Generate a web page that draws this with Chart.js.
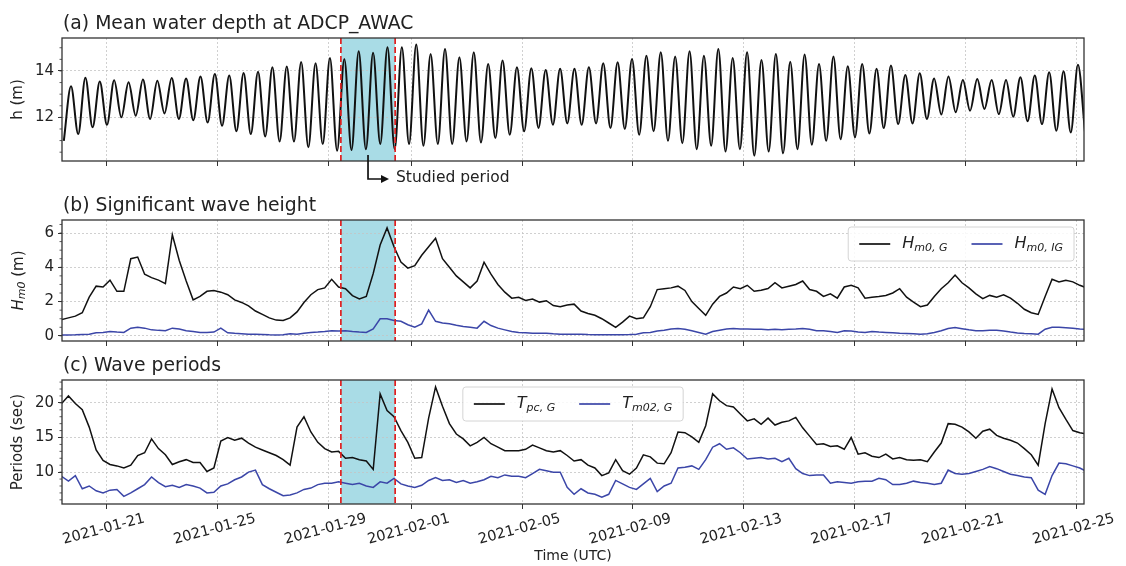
<!DOCTYPE html>
<html>
<head>
<meta charset="utf-8">
<title>ADCP_AWAC water depth, wave height and wave periods</title>
<script src="https://cdn.jsdelivr.net/npm/chart.js@4.4.1/dist/chart.umd.min.js"></script>
<style>
  html, body { margin: 0; padding: 0; background: #fff; }
  #wrap { position: relative; width: 1126px; height: 566px; overflow: hidden; }
  #wrap canvas { position: absolute; left: 0; top: 0; }
</style>
</head>
<body>
<div id="wrap">
  <canvas id="chartA" width="1126" height="566"></canvas>
  <canvas id="chartB" width="1126" height="566"></canvas>
  <canvas id="chartC" width="1126" height="566"></canvas>
</div>
<script>
// ---- data ----
const tickLabels = ['2021-01-21', '2021-01-25', '2021-01-29', '2021-02-01', '2021-02-05',
                    '2021-02-09', '2021-02-13', '2021-02-17', '2021-02-21', '2021-02-25'];
const studyStart = Date.parse('2021-01-29T11:00:00Z');
const studyEnd = Date.parse('2021-01-31T10:00:00Z');

// (a) tide: successive low / high water levels (m), one every ~6.23 h
const tideStart = '2021-01-19T11:00:00Z';
const tideStepHours = 6.23;
const tideLows = [10.99, 11.28, 11.57, 11.68, 12.0, 12.07, 11.93, 12.17, 11.93, 11.88, 11.78, 11.64, 11.40, 11.28, 11.18, 10.96, 10.96, 10.71,
  10.85, 10.56, 10.59, 10.63, 10.85, 10.63, 10.85, 10.78, 10.85, 10.85, 10.96, 10.92, 11.11, 11.25, 11.40, 11.54, 11.68, 11.74,
  11.68, 11.74, 11.54, 11.50, 11.25, 11.40, 10.99, 10.89, 10.63, 10.78, 10.53, 10.63, 10.35, 10.53, 10.45, 10.63, 10.82, 10.99,
  11.06, 11.14, 11.31, 11.54, 11.71, 11.74, 11.93, 12.12, 12.22, 12.29, 12.36, 12.14, 12.03, 11.83, 11.71, 11.42, 11.35, 11.3];
const tideHighs = [13.34, 13.71, 13.55, 13.60, 13.51, 13.63, 13.58, 13.70, 13.68, 13.76, 13.87, 13.80, 13.91, 13.97, 14.16, 14.19, 14.39,
  14.33, 14.56, 14.52, 14.85, 14.78, 15.02, 15.02, 15.14, 14.73, 14.95, 14.59, 14.81, 14.30, 14.45, 14.16, 14.12, 14.04, 14.09,
  14.09, 14.16, 14.33, 14.37, 14.52, 14.66, 14.81, 14.62, 14.85, 14.66, 14.95, 14.56, 14.81, 14.47, 14.73, 14.40, 14.71, 14.30,
  14.62, 14.20, 14.30, 14.09, 14.23, 13.83, 13.90, 13.68, 13.76, 13.61, 13.65, 13.61, 13.61, 13.73, 13.80, 13.94, 13.99, 14.27];

// (b) and (c): 6-hourly samples
const waveStart = '2021-01-19T09:00:00Z';
const waveStepHours = 6;
const hm0G = [0.95, 1.05, 1.15, 1.35, 2.26, 2.9, 2.85, 3.25, 2.6, 2.6,
  4.5, 4.6, 3.6, 3.4, 3.25, 3.05, 5.9, 4.4, 3.2, 2.1,
  2.3, 2.6, 2.65, 2.55, 2.4, 2.1, 1.95, 1.75, 1.45, 1.25,
  1.05, 0.92, 0.9, 1.05, 1.4, 1.95, 2.4, 2.7, 2.8, 3.3,
  2.85, 2.75, 2.35, 2.15, 2.3, 3.64, 5.3, 6.3, 5.2, 4.3,
  3.95, 4.1, 4.7, 5.2, 5.7, 4.5, 4.0, 3.5, 3.15, 2.8,
  3.2, 4.3, 3.6, 3.0, 2.55, 2.2, 2.25, 2.07, 2.15, 1.97,
  2.05, 1.77, 1.7, 1.8, 1.85, 1.45, 1.3, 1.2, 1.0, 0.75,
  0.5, 0.8, 1.15, 1.0, 1.05, 1.7, 2.7, 2.75, 2.8, 2.9,
  2.65, 2.0, 1.6, 1.2, 1.85, 2.3, 2.5, 2.85, 2.75, 2.95,
  2.6, 2.66, 2.76, 3.1, 2.8, 2.9, 3.0, 3.2, 2.7, 2.6,
  2.3, 2.45, 2.2, 2.85, 2.95, 2.8, 2.2, 2.25, 2.3, 2.36,
  2.5, 2.75, 2.26, 1.97, 1.7, 1.8, 2.3, 2.75, 3.1, 3.55,
  3.1, 2.8, 2.45, 2.17, 2.36, 2.26, 2.4, 2.2, 1.9, 1.55,
  1.35, 1.25, 2.3, 3.3, 3.15, 3.25, 3.15, 2.95, 2.8];
const hm0IG = [0.05, 0.05, 0.06, 0.08, 0.1, 0.18, 0.2, 0.25, 0.22, 0.2,
  0.45, 0.5, 0.45, 0.35, 0.32, 0.3, 0.45, 0.4, 0.3, 0.25,
  0.2, 0.2, 0.22, 0.45, 0.18, 0.15, 0.13, 0.1, 0.1, 0.08,
  0.06, 0.05, 0.06, 0.12, 0.1, 0.15, 0.2, 0.22, 0.25, 0.3,
  0.28, 0.3, 0.25, 0.22, 0.2, 0.4, 1.0, 1.0, 0.9, 0.85,
  0.65, 0.5, 0.7, 1.5, 0.85, 0.75, 0.7, 0.62, 0.55, 0.5,
  0.45, 0.85, 0.6, 0.45, 0.35, 0.25, 0.2, 0.18, 0.15, 0.15,
  0.15, 0.12, 0.1, 0.1, 0.1, 0.1, 0.08, 0.07, 0.06, 0.06,
  0.06, 0.07, 0.08, 0.1, 0.18, 0.2, 0.28, 0.33, 0.4, 0.43,
  0.38, 0.3, 0.2, 0.1, 0.25, 0.33, 0.4, 0.43, 0.4, 0.4,
  0.39, 0.38, 0.36, 0.38, 0.36, 0.39, 0.4, 0.43, 0.38, 0.3,
  0.3, 0.25, 0.2, 0.3, 0.28, 0.22, 0.2, 0.25, 0.22, 0.2,
  0.18, 0.15, 0.14, 0.12, 0.1, 0.12, 0.2, 0.3, 0.43, 0.49,
  0.42, 0.35, 0.3, 0.3, 0.32, 0.33, 0.28, 0.22, 0.17, 0.14,
  0.12, 0.1, 0.39, 0.5, 0.5, 0.48, 0.45, 0.4, 0.38];
const tpcG = [19.9, 21.0, 19.9, 19.0, 16.5, 13.2, 11.7, 11.1, 10.9, 10.6,
  11.0, 12.4, 12.8, 14.8, 13.4, 12.5, 11.1, 11.5, 11.8, 11.4,
  11.4, 10.1, 10.6, 14.5, 15.0, 14.6, 14.9, 14.2, 13.6, 13.2,
  12.8, 12.4, 11.8, 11.0, 16.5, 18.0, 15.8, 14.3, 13.4, 12.9,
  13.0, 12.0, 12.1, 11.8, 11.6, 10.4, 21.3, 18.9, 18.0, 16.0,
  14.3, 12.0, 12.1, 17.8, 22.3, 19.5, 17.0, 15.5, 14.8, 13.8,
  14.3, 15.0, 14.1, 13.6, 13.1, 13.1, 13.1, 13.3, 13.9, 13.5,
  13.1, 12.9, 13.1, 12.4, 11.6, 11.8, 11.0, 10.6, 9.5, 9.9,
  11.8, 10.2, 9.7, 10.6, 12.5, 12.2, 11.3, 11.2, 12.8, 15.8,
  15.7, 15.1, 14.3, 16.7, 21.3, 20.3, 19.6, 19.4, 18.4, 17.4,
  17.7, 16.9, 17.8, 16.8, 17.2, 17.4, 17.9, 16.4, 15.2, 14.0,
  14.1, 13.7, 13.8, 13.3, 15.0, 12.6, 12.8, 12.3, 12.1, 12.6,
  11.9, 12.1, 11.8, 11.7, 11.8, 11.5, 12.9, 14.2, 17.0, 16.9,
  16.5, 15.8, 14.9, 15.9, 16.2, 15.3, 14.9, 14.6, 14.2, 13.4,
  12.5, 11.0, 17.0, 22.0, 19.3, 17.6, 16.0, 15.7, 15.5];
const tm02G = [9.4, 8.7, 9.5, 7.6, 8.0, 7.3, 7.0, 7.4, 7.5, 6.5,
  7.0, 7.6, 8.2, 9.3, 8.5, 7.9, 8.1, 7.8, 8.2, 8.0,
  7.7, 7.0, 7.1, 8.0, 8.3, 8.9, 9.3, 10.0, 10.3, 8.2,
  7.6, 7.1, 6.6, 6.7, 7.0, 7.5, 7.7, 8.2, 8.4, 8.4,
  8.6, 8.4, 8.2, 8.4, 8.0, 7.8, 8.6, 8.4, 9.1, 8.3,
  8.0, 7.8, 8.1, 8.8, 9.2, 8.8, 8.9, 8.5, 8.8, 8.4,
  8.6, 8.9, 9.4, 9.2, 9.6, 9.4, 9.4, 9.2, 9.8, 10.4,
  10.2, 10.0, 10.0, 7.8, 6.8, 7.6, 7.0, 6.8, 6.4, 6.8,
  8.8, 8.3, 7.8, 7.5, 8.3, 9.1, 7.2, 8.0, 8.4, 10.6,
  10.7, 10.9, 10.4, 11.8, 13.6, 14.1, 13.3, 13.5, 12.8, 11.9,
  12.0, 12.1, 11.9, 12.0, 11.5, 12.0, 10.5, 9.8, 9.5, 9.6,
  9.6, 8.4, 8.6, 8.5, 8.4, 8.6, 8.7, 8.7, 9.1, 8.9,
  8.2, 8.2, 8.4, 8.7, 8.5, 8.4, 8.2, 8.4, 10.3, 9.8,
  9.7, 9.8, 10.1, 10.4, 10.8, 10.5, 10.1, 9.7, 9.5, 9.3,
  9.2, 7.4, 6.8, 9.5, 11.3, 11.2, 10.9, 10.6, 10.1];

const yTicksA = [12, 14];
const yTicksB = [0, 2, 4, 6];
const yTicksC = [10, 15, 20];

// ---- styling ----
const FAM = '"DejaVu Sans", sans-serif';
const TXT = '#222222';
const AXIS = '#333333';
const GRID = '#c4c4c4';
const BLACK = '#111111';
const BLUE = '#3b46a8';
const RED = '#e02020';
const SHADE = '#a9dce6';
const HOUR = 3600e3;

const xMin = Date.parse('2021-01-19T09:26:00Z');
const xMax = Date.parse('2021-02-25T06:40:00Z');
const tickValues = tickLabels.map(s => Date.parse(s + 'T00:00:00Z'));

function series(start, stepH, vals) {
  const t0 = Date.parse(start);
  return vals.map((v, i) => ({ x: t0 + i * stepH * HOUR, y: v }));
}

// low, high, low, high ...
const tideLevels = [];
tideLows.forEach((lo, k) => {
  tideLevels.push(lo);
  if (k < tideHighs.length) tideLevels.push(tideHighs[k]);
});

function richWidth(ctx, parts) {
  let w = 0;
  parts.forEach(p => { ctx.font = p.font; w += ctx.measureText(p.t).width; });
  return w;
}
function drawRich(ctx, x, y, parts) {
  let cx = x;
  parts.forEach(p => {
    ctx.font = p.font;
    ctx.fillText(p.t, cx, y + (p.dy || 0));
    cx += ctx.measureText(p.t).width;
  });
}

function drawLegend(ctx, a, lg) {
  const pad = 11, lineLen = 31, gap = 12, itemGap = 24, h = 34;
  let w = pad * 2;
  lg.items.forEach((it, i) => { w += lineLen + gap + richWidth(ctx, it.label) + (i ? itemGap : 0); });
  const x0 = lg.align === 'right' ? a.right - 10 - w : (a.left + a.right) / 2 - w / 2;
  const y0 = a.top + 7;
  ctx.fillStyle = 'rgba(255,255,255,0.85)';
  ctx.strokeStyle = '#d4d4d4';
  ctx.lineWidth = 1;
  ctx.beginPath();
  ctx.roundRect(x0, y0, w, h, 3);
  ctx.fill();
  ctx.stroke();
  let cx = x0 + pad;
  const cy = y0 + h / 2;
  lg.items.forEach((it, i) => {
    if (i) cx += itemGap;
    ctx.strokeStyle = it.color;
    ctx.lineWidth = 1.7;
    ctx.beginPath();
    ctx.moveTo(cx, cy);
    ctx.lineTo(cx + lineLen, cy);
    ctx.stroke();
    cx += lineLen + gap;
    ctx.fillStyle = TXT;
    ctx.textBaseline = 'middle';
    ctx.textAlign = 'left';
    drawRich(ctx, cx, cy, it.label);
    cx += richWidth(ctx, it.label);
  });
}

// shaded study window, red limits, frame, minor ticks, titles, legends, annotation
const decor = {
  id: 'decor',
  beforeDraw(chart) {
    const { ctx, chartArea: a } = chart;
    const xs = chart.scales.x;
    const x0 = xs.getPixelForValue(studyStart);
    const x1 = xs.getPixelForValue(studyEnd);
    ctx.save();
    ctx.fillStyle = SHADE;
    ctx.fillRect(x0, a.top, x1 - x0, a.bottom - a.top);
    ctx.restore();
  },
  afterDraw(chart, args, o) {
    const { ctx, chartArea: a } = chart;
    const xs = chart.scales.x, ys = chart.scales.y;
    ctx.save();

    ctx.strokeStyle = RED;
    ctx.lineWidth = 1.7;
    ctx.setLineDash([6, 3]);
    [studyStart, studyEnd].forEach(t => {
      const px = xs.getPixelForValue(t);
      ctx.beginPath();
      ctx.moveTo(px, a.top);
      ctx.lineTo(px, a.bottom);
      ctx.stroke();
    });
    ctx.setLineDash([]);

    ctx.strokeStyle = AXIS;
    ctx.lineWidth = 1.3;
    ctx.strokeRect(a.left, a.top, a.right - a.left, a.bottom - a.top);

    // minor ticks on the y axis
    ctx.lineWidth = 0.8;
    const n0 = Math.ceil(ys.min / o.minor), n1 = Math.floor(ys.max / o.minor);
    for (let n = n0; n <= n1; n++) {
      const py = ys.getPixelForValue(n * o.minor);
      ctx.beginPath();
      ctx.moveTo(a.left - 2.5, py);
      ctx.lineTo(a.left, py);
      ctx.stroke();
    }

    ctx.fillStyle = TXT;
    ctx.font = '18.8px ' + FAM;
    ctx.textAlign = 'left';
    ctx.textBaseline = 'alphabetic';
    ctx.fillText(o.title, a.left + 1, a.top - 9);

    if (o.yTitle) {
      ctx.save();
      ctx.translate(19, (a.top + a.bottom) / 2);
      ctx.rotate(-Math.PI / 2);
      ctx.textBaseline = 'middle';
      drawRich(ctx, -richWidth(ctx, o.yTitle) / 2, 0, o.yTitle);
      ctx.restore();
    }

    if (o.legend) drawLegend(ctx, a, o.legend);

    if (o.annotate) {
      const xm = xs.getPixelForValue((studyStart + studyEnd) / 2);
      const yb = a.bottom + 18;
      ctx.strokeStyle = '#111';
      ctx.lineWidth = 1.7;
      ctx.beginPath();
      ctx.moveTo(xm, a.bottom - 6);
      ctx.lineTo(xm, yb);
      ctx.lineTo(xm + 15, yb);
      ctx.stroke();
      ctx.fillStyle = '#111';
      ctx.beginPath();
      ctx.moveTo(xm + 21, yb);
      ctx.lineTo(xm + 13, yb - 4);
      ctx.lineTo(xm + 13, yb + 4);
      ctx.closePath();
      ctx.fill();
      ctx.fillStyle = TXT;
      ctx.font = '15.5px ' + FAM;
      ctx.textBaseline = 'middle';
      ctx.fillText('Studied period', xm + 28, yb - 1);
    }
    ctx.restore();
  }
};

function xScale(showLabels, axisHeight) {
  return {
    type: 'linear',
    min: xMin,
    max: xMax,
    afterBuildTicks: ax => { ax.ticks = tickValues.map(v => ({ value: v })); },
    afterFit: ax => { ax.height = axisHeight; },
    grid: { color: GRID, lineWidth: 0.8, tickColor: AXIS, tickLength: 5, tickWidth: 1 },
    border: { display: false, dash: [2, 2] },
    ticks: {
      display: showLabels,
      autoSkip: false,
      minRotation: 15,
      maxRotation: 15,
      labelOffset: 38,
      padding: 1,
      color: TXT,
      font: { family: FAM, size: 14.5 },
      callback: v => new Date(v).toISOString().slice(0, 10)
    },
    title: {
      display: showLabels,
      text: 'Time (UTC)',
      color: TXT,
      font: { family: FAM, size: 14 },
      padding: { top: 0, bottom: 1 }
    }
  };
}

function yScale(min, max, ticks, title) {
  return {
    type: 'linear',
    position: 'left',
    min: min,
    max: max,
    afterBuildTicks: ax => { ax.ticks = ticks.map(v => ({ value: v })); },
    afterFit: ax => { ax.width = 56; },
    grid: { color: GRID, lineWidth: 0.8, tickColor: AXIS, tickLength: 4, tickWidth: 1 },
    border: { display: false, dash: [2, 2] },
    ticks: { color: TXT, padding: 4, font: { family: FAM, size: 15 } },
    title: {
      display: !!title,
      text: title || '',
      color: TXT,
      font: { family: FAM, size: 15 },
      padding: { top: 3, bottom: 0 }
    }
  };
}

function lineSet(label, data, color, width, smooth) {
  return {
    label: label,
    data: data,
    borderColor: color,
    borderWidth: width,
    pointRadius: 0,
    fill: false,
    cubicInterpolationMode: smooth ? 'monotone' : 'default',
    tension: 0
  };
}

function makeChart(id, pad, datasets, xs, ys, decorOpts) {
  return new Chart(document.getElementById(id), {
    type: 'line',
    data: { datasets: datasets },
    plugins: [decor],
    options: {
      responsive: false,
      animation: false,
      devicePixelRatio: 1,
      parsing: false,
      normalized: true,
      layout: { padding: pad },
      scales: { x: xs, y: ys },
      plugins: {
        legend: { display: false },
        tooltip: { enabled: false },
        decor: decorOpts
      }
    }
  });
}

const it16 = 'italic 16px ' + FAM;
const it11 = 'italic 11px ' + FAM;

// (a)
makeChart('chartA', { top: 38, bottom: 395, left: 6, right: 42 },
  [lineSet('h', series(tideStart, tideStepHours, tideLevels), BLACK, 2.0, true)],
  xScale(false, 10), yScale(10.12, 15.42, yTicksA, 'h (m)'),
  { title: '(a) Mean water depth at ADCP_AWAC', minor: 0.5, annotate: true });

// (b)
makeChart('chartB', { top: 220, bottom: 215, left: 6, right: 42 },
  [lineSet('Hm0,G', series(waveStart, waveStepHours, hm0G), BLACK, 1.5, false),
   lineSet('Hm0,IG', series(waveStart, waveStepHours, hm0IG), BLUE, 1.5, false)],
  xScale(false, 10), yScale(-0.3, 6.76, yTicksB, null),
  {
    title: '(b) Significant wave height', minor: 0.5,
    yTitle: [{ t: 'H', font: 'italic 15px ' + FAM }, { t: 'm0', font: it11, dy: 3 }, { t: ' (m)', font: '15px ' + FAM }],
    legend: {
      align: 'right',
      items: [
        { color: BLACK, label: [{ t: 'H', font: it16 }, { t: 'm0, G', font: it11, dy: 4 }] },
        { color: BLUE, label: [{ t: 'H', font: it16 }, { t: 'm0, IG', font: it11, dy: 4 }] }
      ]
    }
  });

// (c)
makeChart('chartC', { top: 380, bottom: 0, left: 6, right: 42 },
  [lineSet('Tpc,G', series(waveStart, waveStepHours, tpcG), BLACK, 1.5, false),
   lineSet('Tm02,G', series(waveStart, waveStepHours, tm02G), BLUE, 1.5, false)],
  xScale(true, 62), yScale(5.4, 23.3, yTicksC, 'Periods (sec)'),
  {
    title: '(c) Wave periods', minor: 1,
    legend: {
      align: 'center',
      items: [
        { color: BLACK, label: [{ t: 'T', font: it16 }, { t: 'pc, G', font: it11, dy: 4 }] },
        { color: BLUE, label: [{ t: 'T', font: it16 }, { t: 'm02, G', font: it11, dy: 4 }] }
      ]
    }
  });
</script>
</body>
</html>
